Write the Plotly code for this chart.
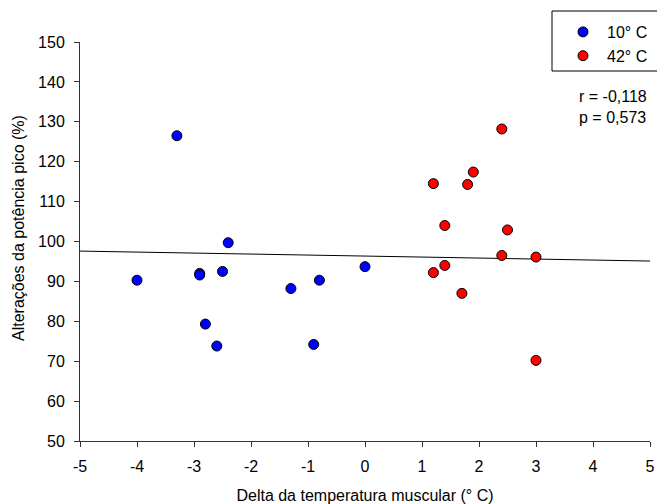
import plotly.graph_objects as go

# Blue series (10° C)
x10 = [-4.0, -3.3, -2.9, -2.9, -2.5, -2.4, -2.8, -2.6, -1.3, -0.9, -0.8, 0.0]
y10 = [90.3, 126.5, 92.0, 91.6, 92.5, 99.7, 79.3, 73.8, 88.2, 74.2, 90.3, 93.7]

# Red series (42° C)
x42 = [1.2, 1.2, 1.4, 1.4, 1.7, 1.8, 1.9, 2.4, 2.4, 2.5, 3.0, 3.0]
y42 = [114.5, 92.2, 104.0, 94.0, 87.0, 114.3, 117.4, 128.2, 96.5, 102.9, 96.1, 70.2]

# Regression line endpoints
fit_x = [-5, 5]
fit_y = [97.6, 95.1]

xticks = [-5, -4, -3, -2, -1, 0, 1, 2, 3, 4, 5]
yticks = [50, 60, 70, 80, 90, 100, 110, 120, 130, 140, 150]

FONT = "Liberation Sans, Arial, sans-serif"
FS = 16
AXC = "#333333"

fig = go.Figure()
fig.add_trace(go.Scatter(x=fit_x, y=fit_y, mode="lines",
                         line=dict(color="black", width=1), showlegend=False,
                         hoverinfo="skip"))
fig.add_trace(go.Scatter(x=x10, y=y10, mode="markers", name="10° C",
                         marker=dict(color="#0000ff", size=10,
                                     line=dict(color="black", width=1))))
fig.add_trace(go.Scatter(x=x42, y=y42, mode="markers", name="42° C",
                         marker=dict(color="#ff0000", size=10,
                                     line=dict(color="black", width=1))))

# r / p annotation
fig.add_annotation(xref="paper", yref="paper", x=(577 - 80) / 570, y=(441 - 86) / 399,
                   xanchor="left", yanchor="top", align="left",
                   text="r = -0,118<br>p = 0,573", showarrow=False,
                   font=dict(family=FONT, size=FS, color="black"))

# y-axis title (as annotation, centred slightly above plot centre)
fig.add_annotation(xref="paper", yref="paper", x=(18 - 80) / 570, y=(441 - 228) / 399,
                   xanchor="center", yanchor="middle", textangle=-90,
                   text="Alterações da potência pico (%)", showarrow=False,
                   font=dict(family=FONT, size=FS, color="black"))

# legend frame
fig.add_shape(type="rect", xref="paper", yref="paper",
              x0=(552 - 80) / 570, x1=(700 - 80) / 570,
              y0=(441 - 71) / 399, y1=(441 - 11) / 399,
              line=dict(color="black", width=1), fillcolor="rgba(0,0,0,0)")

fig.update_layout(
    width=657, height=504,
    margin=dict(l=80, r=7, t=42, b=63, autoexpand=False),
    paper_bgcolor="white", plot_bgcolor="white",
    font=dict(family=FONT, size=FS, color="black"),
    showlegend=True,
    legend=dict(x=(559 - 80) / 570, y=(441 - 15) / 399, xanchor="left", yanchor="top",
                borderwidth=0, bgcolor="rgba(0,0,0,0)",
                font=dict(family=FONT, size=FS), tracegroupgap=0,
                itemwidth=38),
    xaxis=dict(range=[-5, 5], tickvals=xticks, ticktext=[str(v) for v in xticks],
               showgrid=False, zeroline=False, showline=True,
               linecolor=AXC, linewidth=1, ticks="outside", ticklen=5,
               tickcolor=AXC, ticklabelstandoff=6, automargin=False,
               title=dict(text="Delta da temperatura muscular (° C)", standoff=20,
                          font=dict(family=FONT, size=FS))),
    yaxis=dict(range=[50, 150], tickvals=yticks, ticktext=[str(v) for v in yticks],
               showgrid=False, zeroline=False, showline=True,
               linecolor=AXC, linewidth=1, ticks="outside", ticklen=5,
               tickcolor=AXC, ticklabelstandoff=6, automargin=False),
)

fig.write_html("out.html")
